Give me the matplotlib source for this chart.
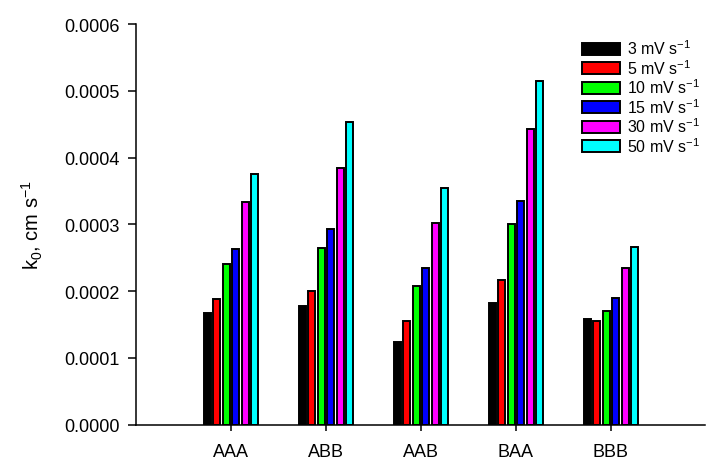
import numpy as np
import matplotlib
matplotlib.use("Agg")
import matplotlib.pyplot as plt

plt.rcParams['font.family'] = ['Liberation Sans', 'DejaVu Sans']
plt.rcParams['mathtext.default'] = 'regular'

categories = ["AAA", "ABB", "AAB", "BAA", "BBB"]
scan_rates = ["3 mV s$^{-1}$", "5 mV s$^{-1}$", "10 mV s$^{-1}$",
              "15 mV s$^{-1}$", "30 mV s$^{-1}$", "50 mV s$^{-1}$"]
colors = ["#000000", "#ff0000", "#00ff00", "#0000ff", "#ff00ff", "#00ffff"]

k3 = [1.68e-4, 1.78e-4, 1.24e-4, 1.82e-4, 1.59e-4]
k5 = [1.88e-4, 2.00e-4, 1.56e-4, 2.16e-4, 1.55e-4]
k10 = [2.41e-4, 2.64e-4, 2.07e-4, 3.00e-4, 1.71e-4]
k15 = [2.63e-4, 2.93e-4, 2.34e-4, 3.35e-4, 1.89e-4]
k30 = [3.33e-4, 3.84e-4, 3.02e-4, 4.43e-4, 2.34e-4]
k50 = [3.76e-4, 4.53e-4, 3.54e-4, 5.15e-4, 2.66e-4]
series = [k3, k5, k10, k15, k30, k50]

fig = plt.figure(figsize=(7.06, 4.60), dpi=100)
ax = fig.add_axes([136 / 706, (460 - 425.7) / 460, (705 - 136) / 706, (425.7 - 25) / 460])

x = np.arange(len(categories))
pitch = 0.1
width = 0.07
for i, (vals, c, lab) in enumerate(zip(series, colors, scan_rates)):
    ax.bar(x + (i - 2.5) * pitch, vals, width=width, color=c,
           edgecolor="black", linewidth=1.4, label=lab)

ax.set_xlim(-1, 4.99)
ax.set_ylim(0, 0.0006)
yt = np.arange(0, 0.00061, 0.0001)
ax.set_yticks(yt)
ax.set_yticklabels([f"{v:.4f}" for v in yt])
ax.set_xticks(x)
ax.set_xticklabels(categories)

for s in ["top", "right"]:
    ax.spines[s].set_visible(False)
for s in ["left", "bottom"]:
    ax.spines[s].set_linewidth(1.1)
ax.tick_params(axis="y", direction="out", length=5.5, width=1.1, labelsize=13, pad=6)
ax.tick_params(axis="x", direction="out", length=4.5, width=1.1, labelsize=13, pad=9)

ax.set_ylabel("k$_0$, cm s$^{-1}$", fontsize=14.5, labelpad=14)

leg = ax.legend(loc="upper left", bbox_to_anchor=(580 / 706, 1 - 38 / 460),
                bbox_transform=fig.transFigure, frameon=False,
                fontsize=11.5, handlelength=2.4, handleheight=0.8,
                labelspacing=0.05, handletextpad=0.45, borderaxespad=0,
                borderpad=0.1)

fig.savefig("out.png", dpi=100)
